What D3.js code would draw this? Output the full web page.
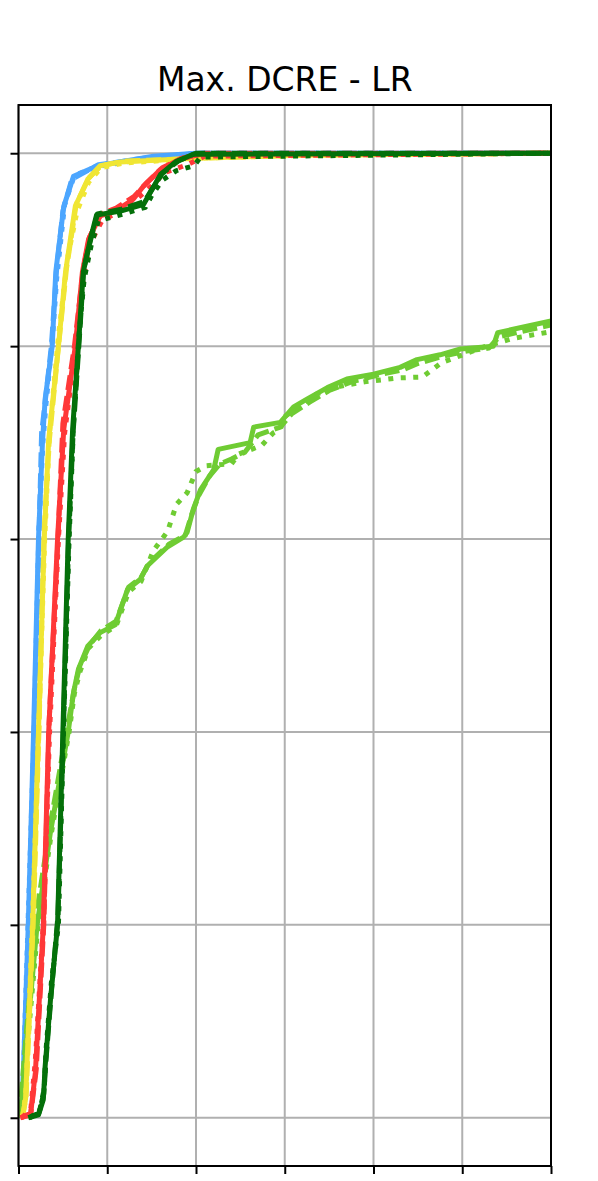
<!DOCTYPE html>
<html>
<head>
<meta charset="utf-8">
<script src="https://cdn.jsdelivr.net/npm/d3@7"></script>
<style>
    body { margin: 0; background: #fff; }
</style>
</head>
<body>
<svg></svg>
<script>
// cumulative curves, x in error units, y as fraction of cases
const blueSolid = [[0.01,0],[0.045,0.02],[0.11,0.2],[0.17,0.4],[0.225,0.6],[0.27,0.7],[0.30,0.745],[0.38,0.8],[0.42,0.877],[0.51,0.945],[0.62,0.976],[0.89,0.987],[1.52,0.997],[2.0,1.0],[6,1]];
const blueDashed = [[0.01,0],[0.05,0.02],[0.12,0.2],[0.18,0.4],[0.23,0.6],[0.26,0.71],[0.31,0.75],[0.37,0.8],[0.43,0.88],[0.5,0.94],[0.6,0.973],[0.9,0.988],[1.5,0.996],[2.05,1],[6,1]];
const blueDotted = [[0.02,0],[0.05,0.03],[0.11,0.21],[0.175,0.4],[0.23,0.61],[0.275,0.7],[0.31,0.74],[0.385,0.81],[0.43,0.87],[0.52,0.947],[0.63,0.977],[0.88,0.986],[1.55,0.996],[2.0,1.0],[6,1]];

const yellowSolid = [[0.045,0],[0.08,0.02],[0.16,0.2],[0.225,0.4],[0.29,0.6],[0.34,0.703],[0.45,0.8],[0.53,0.877],[0.64,0.945],[0.78,0.973],[0.92,0.987],[1.15,0.991],[2.05,0.995],[3.17,0.998],[6,1]];
const yellowDashed = [[0.04,0],[0.085,0.02],[0.165,0.2],[0.23,0.4],[0.29,0.61],[0.345,0.7],[0.44,0.79],[0.54,0.88],[0.65,0.947],[0.79,0.974],[0.93,0.987],[1.2,0.992],[2.1,0.995],[3.2,0.998],[6,1]];
const yellowDotted = [[0.05,0],[0.085,0.03],[0.16,0.21],[0.23,0.41],[0.295,0.6],[0.35,0.71],[0.45,0.81],[0.55,0.89],[0.66,0.94],[0.79,0.97],[0.93,0.985],[1.2,0.99],[2.1,0.995],[3.3,0.998],[6,1]];

const redSolid = [[0.02,0],[0.135,0.003],[0.19,0.047],[0.28,0.2],[0.34,0.4],[0.44,0.6],[0.51,0.714],[0.64,0.8],[0.72,0.877],[0.79,0.911],[0.92,0.935],[1.09,0.94],[1.29,0.952],[1.41,0.966],[1.6,0.983],[1.82,0.994],[2.05,0.999],[6,1]];
const redDashed = [[0.03,0],[0.14,0.005],[0.2,0.05],[0.285,0.2],[0.345,0.41],[0.445,0.6],[0.5,0.72],[0.63,0.8],[0.73,0.88],[0.8,0.913],[0.93,0.937],[1.1,0.943],[1.3,0.955],[1.43,0.968],[1.62,0.985],[1.85,0.995],[2.1,1],[6,1]];
const redDotted = [[0.04,0],[0.14,0.01],[0.19,0.06],[0.285,0.21],[0.35,0.4],[0.45,0.6],[0.52,0.71],[0.645,0.8],[0.73,0.87],[0.8,0.905],[0.94,0.93],[1.1,0.938],[1.3,0.95],[1.45,0.962],[1.65,0.98],[1.9,0.988],[2.1,0.997],[6,1]];

const darkSolid = [[0.11,0],[0.225,0.003],[0.28,0.019],[0.3,0.053],[0.36,0.122],[0.44,0.2],[0.5,0.4],[0.56,0.6],[0.61,0.714],[0.675,0.8],[0.73,0.877],[0.81,0.911],[0.88,0.936],[1.15,0.94],[1.41,0.947],[1.49,0.96],[1.6,0.978],[1.77,0.991],[1.97,0.999],[6,1]];
const darkDashed = [[0.12,0],[0.23,0.005],[0.285,0.025],[0.31,0.06],[0.37,0.13],[0.445,0.21],[0.505,0.4],[0.565,0.6],[0.615,0.71],[0.68,0.8],[0.735,0.88],[0.82,0.913],[0.89,0.937],[1.16,0.942],[1.42,0.95],[1.5,0.962],[1.62,0.979],[1.8,0.992],[2.0,1],[6,1]];
const darkDotted = [[0.13,0],[0.24,0.008],[0.29,0.03],[0.31,0.07],[0.37,0.14],[0.45,0.2],[0.51,0.41],[0.57,0.6],[0.62,0.72],[0.68,0.81],[0.74,0.87],[0.82,0.905],[0.9,0.93],[1.18,0.937],[1.43,0.944],[1.5,0.956],[1.62,0.972],[1.78,0.982],[1.98,0.987],[2.05,0.996],[6,1]];

const lightSolid = [[0.02,0],[0.1,0.088],[0.21,0.2],[0.36,0.296],[0.56,0.4],[0.62,0.441],[0.675,0.465],[0.78,0.489],[0.92,0.503],[1.09,0.511],[1.15,0.527],[1.23,0.548],[1.37,0.558],[1.45,0.572],[1.68,0.592],[1.86,0.602],[1.9,0.607],[1.97,0.631],[2.05,0.651],[2.2,0.672],[2.25,0.693],[2.61,0.7],[2.65,0.716],[2.95,0.721],[3.1,0.737],[3.25,0.745],[3.48,0.757],[3.7,0.766],[4.0,0.771],[4.3,0.778],[4.49,0.786],[4.75,0.791],[4.98,0.797],[5.35,0.8],[5.4,0.814],[6,0.826]];
const lightDashed = [[0.01,0],[0.09,0.09],[0.2,0.21],[0.35,0.3],[0.55,0.405],[0.63,0.445],[0.69,0.468],[0.8,0.49],[0.93,0.505],[1.1,0.515],[1.16,0.53],[1.24,0.55],[1.38,0.56],[1.47,0.575],[1.7,0.595],[1.88,0.604],[1.95,0.625],[2.03,0.645],[2.15,0.665],[2.27,0.678],[2.4,0.683],[2.55,0.69],[2.7,0.708],[2.95,0.716],[3.08,0.73],[3.28,0.742],[3.5,0.754],[3.75,0.763],[4.05,0.77],[4.35,0.776],[4.5,0.782],[4.8,0.79],[5.05,0.795],[5.3,0.798],[5.42,0.81],[6,0.822]];
const lightDotted = [[0.03,0],[0.11,0.085],[0.22,0.2],[0.37,0.295],[0.57,0.4],[0.63,0.44],[0.69,0.462],[0.79,0.487],[0.93,0.5],[1.1,0.51],[1.16,0.525],[1.24,0.545],[1.38,0.556],[1.52,0.588],[1.68,0.608],[1.78,0.636],[1.9,0.648],[2.0,0.67],[2.12,0.676],[2.4,0.678],[2.48,0.688],[2.74,0.697],[2.87,0.71],[2.95,0.714],[3.0,0.727],[3.35,0.75],[3.6,0.758],[3.9,0.763],[4.27,0.767],[4.55,0.768],[4.77,0.783],[5.27,0.8],[5.57,0.808],[6,0.815]];

const series = [
    {pts: blueSolid, color: "#4ca6ff", dash: null},
    {pts: blueDashed, color: "#4ca6ff", dash: "15,6"},
    {pts: blueDotted, color: "#4ca6ff", dash: "5,7.5"},
    {pts: lightSolid, color: "#6fcc33", dash: null},
    {pts: lightDashed, color: "#6fcc33", dash: "15,6"},
    {pts: lightDotted, color: "#6fcc33", dash: "5,7.5"},
    {pts: yellowSolid, color: "#f0e634", dash: null},
    {pts: yellowDashed, color: "#f0e634", dash: "15,6"},
    {pts: yellowDotted, color: "#f0e634", dash: "5,7.5"},
    {pts: redSolid, color: "#ff3838", dash: null},
    {pts: redDashed, color: "#ff3838", dash: "15,6"},
    {pts: redDotted, color: "#ff3838", dash: "5,7.5"},
    {pts: darkSolid, color: "#04700a", dash: null},
    {pts: darkDashed, color: "#04700a", dash: "15,6"},
    {pts: darkDotted, color: "#04700a", dash: "5,7.5"}
];

const xTicks = [0, 1, 2, 3, 4, 5, 6];
const yTicks = [0, 0.2, 0.4, 0.6, 0.8, 1.0];

let width = 598;
let height = 1181;
let mLeft = 18.5, mRight = 551, mTop = 105, mBottom = 1166;

let svg = d3.select("svg")
    .attr("width", width)
    .attr("height", height);

let x = d3.scaleLinear().domain([0, 6]).range([mLeft, mRight]);
let y = d3.scaleLinear().domain([-0.05, 1.05]).range([mBottom, mTop]);

// title above the axes
svg.append("text")
    .attr("x", (mLeft + mRight) / 2)
    .attr("y", 91)
    .attr("text-anchor", "middle")
    .style("font-family", "DejaVu Sans")
    .style("font-size", "33px")
    .text("Max. DCRE - LR");

// grid lines
let grid = svg.append("g");
grid.selectAll(".gx")
    .data(xTicks)
    .enter()
    .append("line")
    .attr("x1", d => x(d)).attr("x2", d => x(d))
    .attr("y1", mTop).attr("y2", mBottom)
    .attr("stroke", "#b0b0b0")
    .attr("stroke-width", 2);
grid.selectAll(".gy")
    .data(yTicks)
    .enter()
    .append("line")
    .attr("x1", mLeft).attr("x2", mRight)
    .attr("y1", d => y(d)).attr("y2", d => y(d))
    .attr("stroke", "#b0b0b0")
    .attr("stroke-width", 2);

svg.append("clipPath").attr("id", "clip")
    .append("rect")
    .attr("x", mLeft).attr("y", mTop)
    .attr("width", mRight - mLeft).attr("height", mBottom - mTop);

let line = d3.line()
    .x(d => x(d[0]))
    .y(d => y(d[1]));

// the curves
let g = svg.append("g").attr("clip-path", "url(#clip)");
g.selectAll("path")
    .data(series)
    .enter()
    .append("path")
    .attr("d", d => line(d.pts))
    .attr("fill", "none")
    .attr("stroke", d => d.color)
    .attr("stroke-width", 5)
    .attr("stroke-linejoin", "round")
    .attr("stroke-dasharray", d => d.dash);

// axes without labels, ticks only
svg.append("g")
    .attr("transform", `translate(0,${mBottom})`)
    .call(d3.axisBottom(x).tickValues(xTicks).tickSize(8).tickFormat(""))
    .call(a => a.select(".domain").remove())
    .selectAll("line").attr("stroke-width", 2);
svg.append("g")
    .attr("transform", `translate(${mLeft},0)`)
    .call(d3.axisLeft(y).tickValues(yTicks).tickSize(8).tickFormat(""))
    .call(a => a.select(".domain").remove())
    .selectAll("line").attr("stroke-width", 2);

svg.append("rect")
    .attr("x", mLeft).attr("y", mTop)
    .attr("width", mRight - mLeft).attr("height", mBottom - mTop)
    .attr("fill", "none")
    .attr("stroke", "#000")
    .attr("stroke-width", 2);
</script>
</body>
</html>
